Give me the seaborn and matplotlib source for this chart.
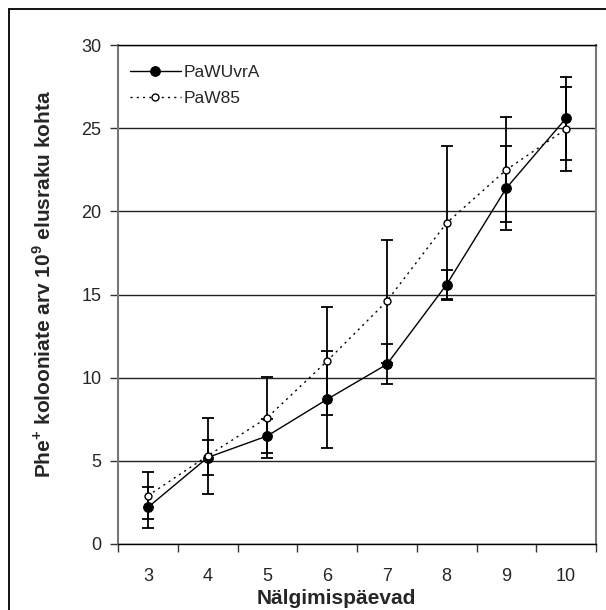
import matplotlib
matplotlib.use("Agg")
import matplotlib.pyplot as plt
import seaborn as sns
import pandas as pd
from matplotlib.lines import Line2D

# values
days = [3, 4, 5, 6, 7, 8, 9, 10]
pawuvra = [2.2, 5.2, 6.5, 8.7, 10.8, 15.6, 21.4, 25.6]
pawuvra_err = [1.25, 1.05, 1.0, 2.9, 1.2, 0.85, 2.5, 2.5]
paw85 = [2.9, 5.3, 7.6, 11.0, 14.6, 19.3, 22.5, 24.95]
paw85_err = [1.4, 2.3, 2.45, 3.25, 3.7, 4.65, 3.15, 2.5]
strains = ["PaWUvrA", "PaW85"]

df = pd.DataFrame({
    "day": days * 2,
    "value": pawuvra + paw85,
    "err": pawuvra_err + paw85_err,
    "strain": [strains[0]] * len(days) + [strains[1]] * len(days),
})

sns.set_style("ticks")
plt.rcParams["font.family"] = ["Liberation Sans", "DejaVu Sans"]
plt.rcParams["mathtext.fontset"] = "custom"
plt.rcParams["mathtext.bf"] = "Liberation Sans:bold"
plt.rcParams["mathtext.rm"] = "Liberation Sans:bold"

fig = plt.figure(figsize=(6.06, 6.10), dpi=100)
ax = fig.add_axes([118 / 606, 1 - 544 / 610, 478 / 606, 499 / 610])

# error bars
for s in strains:
    d = df[df["strain"] == s]
    ax.errorbar(d["day"], d["value"], yerr=d["err"], fmt="none",
                ecolor="black", elinewidth=1.3, capsize=4.5, capthick=1.3, zorder=3)

sns.lineplot(data=df, x="day", y="value", hue="strain", style="strain",
             palette={"PaWUvrA": "black", "PaW85": "black"},
             markers={"PaWUvrA": "o", "PaW85": "o"},
             dashes={"PaWUvrA": "", "PaW85": (1.5, 3)},
             linewidth=1.0, markersize=7, ax=ax, zorder=4)

for line in ax.lines:
    if line.get_marker() != "o":
        continue
    if line.get_linestyle() != "-":
        line.set_markerfacecolor("white")
        line.set_markersize(5)
        line.set_markeredgewidth(1.0)
    else:
        line.set_markerfacecolor("black")
    line.set_markeredgecolor("black")

ax.set_xlim(2.5, 10.5)
ax.set_ylim(0, 30)
ax.set_yticks(range(0, 31, 5))
ax.set_xticks(days)
ax.set_xticks([d - 0.5 for d in days] + [10.5], minor=True)
ax.tick_params(axis="x", which="major", length=0, pad=17, labelsize=13)
ax.tick_params(axis="x", which="minor", length=6, width=1, color="#333", direction="out")
ax.tick_params(axis="y", length=6, width=1, color="#333", direction="out", pad=6, labelsize=13)

ax.yaxis.grid(True, color="#222", linewidth=1.0)
ax.set_axisbelow(True)
for side in ["left", "right"]:
    ax.spines[side].set_color("#777")
    ax.spines[side].set_linewidth(1.5)
ax.spines["top"].set_color("black")
ax.spines["top"].set_linewidth(1.0)
ax.spines["bottom"].set_color("black")
ax.spines["bottom"].set_linewidth(1.0)

ax.set_xlabel("")
ax.set_ylabel("")
fig.text(336 / 606, 1 - 598 / 610, "Nälgimispäevad",
         ha="center", va="center", fontsize=15, fontweight="bold")
fig.text(44 / 606, 1 - 284 / 610,
         r"Phe$^{\mathbf{+}}$ kolooniate arv 10$^{\mathbf{9}}$ elusraku kohta",
         rotation=90, ha="center", va="center", fontsize=15, fontweight="bold")

handles, labels = ax.get_legend_handles_labels()
leg = ax.legend(handles, labels, loc="upper left", bbox_to_anchor=(0.0, 0.985),
                frameon=False, fontsize=12.5, handlelength=2.9, handletextpad=0.2,
                labelspacing=0.65, borderaxespad=0.3)

# outer chart frame (left and top edges)
fx, fy = 8.5 / 606, 1 - 8.5 / 610
fig.add_artist(Line2D([fx, fx], [0, fy], transform=fig.transFigure, color="black", lw=1.3))
fig.add_artist(Line2D([fx, 1], [fy, fy], transform=fig.transFigure, color="black", lw=1.3))

fig.savefig("out.png", dpi=100)
